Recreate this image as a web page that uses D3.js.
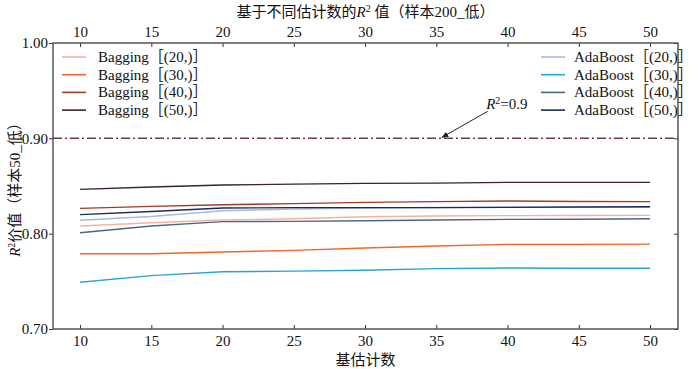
<!DOCTYPE html>
<html>
<head>
<meta charset="utf-8">
<script src="https://cdn.jsdelivr.net/npm/d3@7"></script>
<style>
  body { margin: 0; background: #fff; }
  text { font-family: "Liberation Serif", "Noto Sans CJK SC", serif; fill: #111; }
</style>
</head>
<body>
<div id="chart"></div>
<script>
// ---- donnees ----
const estimators = [10, 15, 20, 25, 30, 35, 40, 45, 50];
const xTicks = [10, 15, 20, 25, 30, 35, 40, 45, 50];
const yTicks = [0.70, 0.80, 0.90, 1.00];

const bagging20 = [0.808, 0.8115, 0.8143, 0.8157, 0.8178, 0.8185, 0.8189, 0.8190, 0.8192];
const bagging30 = [0.779, 0.779, 0.7807, 0.7825, 0.7849, 0.787, 0.7888, 0.7888, 0.789];
const bagging40 = [0.8265, 0.8286, 0.8304, 0.8315, 0.8328, 0.8336, 0.8342, 0.8338, 0.8336];
const bagging50 = [0.8465, 0.849, 0.851, 0.852, 0.8528, 0.853, 0.8538, 0.8538, 0.8538];
const ada20 = [0.814, 0.818, 0.824, 0.8258, 0.8269, 0.8275, 0.8278, 0.8278, 0.8278];
const ada30 = [0.749, 0.756, 0.760, 0.7607, 0.7617, 0.7633, 0.764, 0.7637, 0.7637];
const ada40 = [0.801, 0.808, 0.8126, 0.8129, 0.8136, 0.8143, 0.815, 0.8152, 0.8157];
const ada50 = [0.820, 0.8232, 0.8269, 0.8273, 0.8273, 0.8273, 0.8276, 0.828, 0.8283];

const leftNames = ["Bagging［(20,)］", "Bagging［(30,)］", "Bagging［(40,)］", "Bagging［(50,)］"];
const rightNames = ["AdaBoost［(20,)］", "AdaBoost［(30,)］", "AdaBoost［(40,)］", "AdaBoost［(50,)］"];
const leftColors = ["#f6b39c", "#ea6a2c", "#a33a28", "#3a2626"];
const rightColors = ["#a9b9da", "#2ba3d2", "#4c6688", "#1b2a5c"];

const refValue = 0.9;

// ---- dimensions ----
const W = 700, H = 369;
const margin = { top: 43, right: 22, bottom: 40, left: 53 };
const width = W - margin.left - margin.right,
      height = H - margin.top - margin.bottom;

const svg = d3.select("#chart").append("svg")
    .attr("width", W).attr("height", H);

const g = svg.append("g")
    .attr("transform", "translate(" + margin.left + "," + margin.top + ")");

const x = d3.scaleLinear().domain([8.1, 51.96]).range([0, width]);
const y = d3.scaleLinear().domain([0.70, 1.00]).range([height, 0]);

// ---- axes ----
function styleAxis(sel) {
    sel.select(".domain").remove();
    sel.selectAll(".tick line").attr("stroke", "#333").attr("stroke-width", 1);
    sel.selectAll(".tick text").style("font-size", "15px").attr("fill", "#111");
}

g.append("g")
    .attr("transform", "translate(0," + height + ")")
    .call(d3.axisBottom(x).tickValues(xTicks).tickSize(-4).tickPadding(6).tickFormat(d3.format("d")))
    .call(styleAxis);

g.append("g")
    .call(d3.axisTop(x).tickValues(xTicks).tickSize(-4).tickPadding(6).tickFormat(d3.format("d")))
    .call(styleAxis);

g.append("g")
    .call(d3.axisLeft(y).tickValues(yTicks).tickSize(4).tickPadding(1).tickFormat(d3.format(".2f")))
    .call(styleAxis);

g.append("g")
    .attr("transform", "translate(" + width + ",0)")
    .call(d3.axisRight(y).tickValues(yTicks).tickSize(-4).tickFormat(""))
    .call(styleAxis);

// cadre
g.append("rect")
    .attr("width", width).attr("height", height)
    .attr("fill", "none").attr("stroke", "#555").attr("stroke-width", 1.5);

// ---- ligne de reference R2 = 0.9 ----
g.append("line")
    .attr("x1", 0).attr("x2", width)
    .attr("y1", y(refValue)).attr("y2", y(refValue))
    .attr("stroke", "#6e3c40").attr("stroke-width", 1.5)
    .attr("stroke-dasharray", "9,3,2,3");

// ---- courbes ----
const line = d3.line()
    .x((d, i) => x(estimators[i]))
    .y(d => y(d));

const series = [
    { v: bagging20, c: leftColors[0] }, { v: ada20, c: rightColors[0] },
    { v: bagging30, c: leftColors[1] }, { v: ada30, c: rightColors[1] },
    { v: ada40, c: rightColors[2] }, { v: bagging40, c: leftColors[2] },
    { v: ada50, c: rightColors[3] }, { v: bagging50, c: leftColors[3] }
];

g.selectAll(".serie")
    .data(series)
    .enter()
    .append("path")
    .attr("class", "serie")
    .attr("d", d => line(d.v))
    .attr("fill", "none")
    .attr("stroke", d => d.c)
    .attr("stroke-width", 1.4);

// ---- annotation ----
svg.append("defs").append("marker")
    .attr("id", "fleche")
    .attr("viewBox", "0 0 10 10")
    .attr("refX", 9).attr("refY", 5)
    .attr("markerWidth", 7).attr("markerHeight", 7)
    .attr("orient", "auto")
    .append("path").attr("d", "M0,1 L10,5 L0,9 Z").attr("fill", "#222");

g.append("line")
    .attr("x1", x(38.6)).attr("y1", y(refValue) - 27)
    .attr("x2", x(35.4)).attr("y2", y(refValue) - 1)
    .attr("stroke", "#222").attr("stroke-width", 1)
    .attr("marker-end", "url(#fleche)");

const annot = g.append("text")
    .attr("x", x(38.5)).attr("y", y(refValue) - 29)
    .style("font-size", "15px");
annot.append("tspan").style("font-style", "italic").text("R");
annot.append("tspan").attr("dy", -5).style("font-size", "10px").text("2");
annot.append("tspan").attr("dy", 5).text("=0.9");

// ---- legendes ----
function drawLegend(names, colors, lx, tx) {
    const leg = svg.append("g");
    names.forEach((n, i) => {
        const yy = 57 + i * 17.7;
        leg.append("line")
            .attr("x1", lx).attr("x2", lx + 24)
            .attr("y1", yy).attr("y2", yy)
            .attr("stroke", colors[i]).attr("stroke-width", 1.6);
        leg.append("text")
            .attr("x", tx).attr("y", yy + 5)
            .style("font-size", "15px")
            .text(n);
    });
}
drawLegend(leftNames, leftColors, 62, 98);
drawLegend(rightNames, rightColors, 541, 574);

// ---- titres ----
const titre = svg.append("text")
    .attr("x", margin.left + width / 2).attr("y", 17)
    .attr("text-anchor", "middle")
    .style("font-size", "15px");
titre.append("tspan").text("基于不同估计数的");
titre.append("tspan").style("font-style", "italic").text("R");
titre.append("tspan").attr("dy", -5).style("font-size", "10px").text("2");
titre.append("tspan").attr("dy", 5).text(" 值（样本200_低）");

svg.append("text")
    .attr("x", margin.left + width / 2).attr("y", 365)
    .attr("text-anchor", "middle")
    .style("font-size", "15px")
    .text("基估计数");

const ylab = svg.append("text")
    .attr("transform", "translate(20," + 186 + ") rotate(-90)")
    .attr("text-anchor", "middle")
    .style("font-size", "15px");
ylab.append("tspan").style("font-style", "italic").text("R");
ylab.append("tspan").attr("dy", -5).style("font-size", "10px").text("2");
ylab.append("tspan").attr("dy", 5).text("价值（样本50_低）");
</script>
</body>
</html>
